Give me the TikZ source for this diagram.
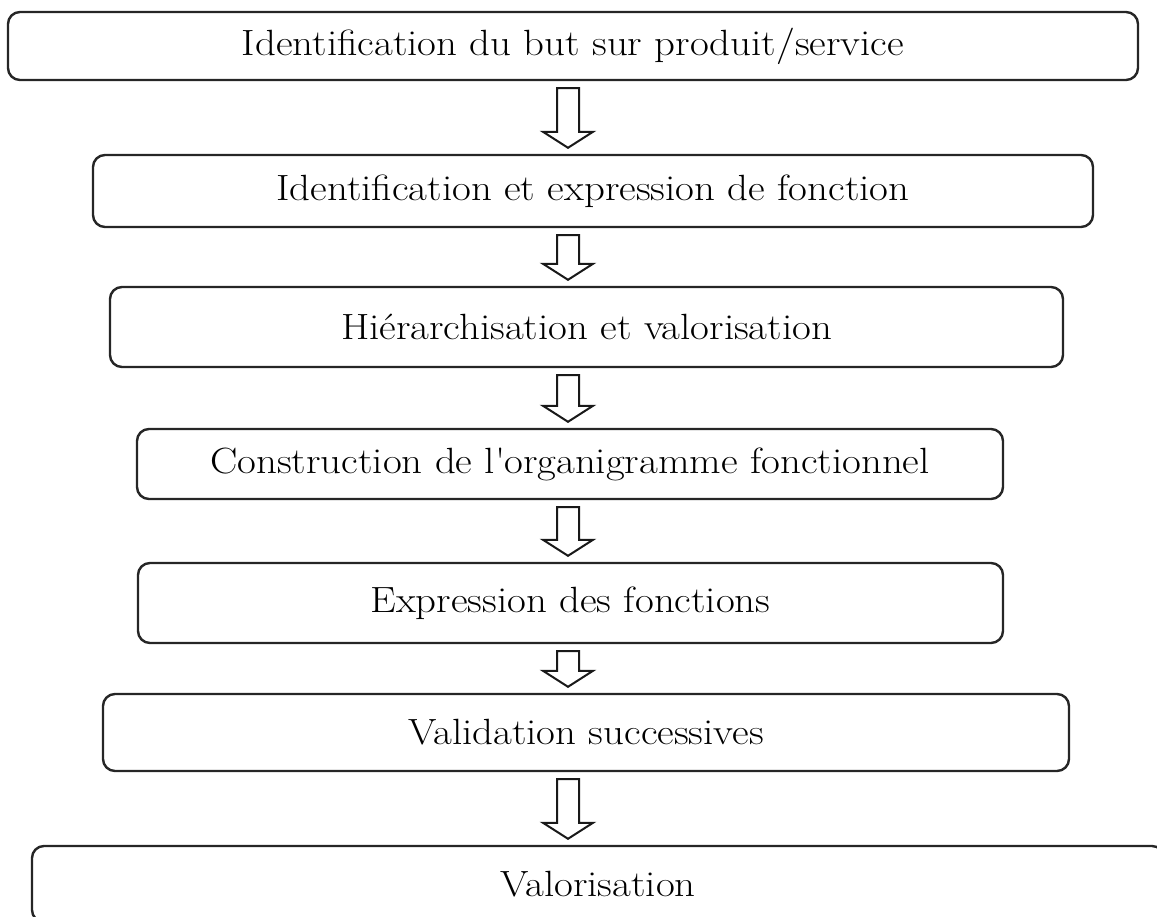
\documentclass[tikz,border=0pt]{standalone}
\usepackage{fontspec}
\setmainfont{Latin Modern Roman}[FakeStretch=1.12]
\usetikzlibrary{calc}
\begin{document}
\begin{tikzpicture}[x=1pt,y=-1pt,
  stage/.style={draw=black!85, line width=2.4pt, rounded corners=12pt,
    inner sep=0pt, font=\fontsize{36.5}{42}\selectfont},
  hollow/.style={draw=black!90, line width=2pt, fill=white, line join=miter}]
\useasboundingbox (0,0) rectangle (1157,917);

% process stages, top to bottom
\node[stage, minimum width=1130pt, minimum height=68pt] (s1) at (573,46)
  {Identification du but sur produit/service};
\node[stage, minimum width=1000pt, minimum height=72pt] (s2) at (593,191)
  {Identification et expression de fonction};
\node[stage, minimum width=953pt, minimum height=80pt] (s3) at (586.5,327)
  {Hiérarchisation et valorisation};
\node[stage, minimum width=866pt, minimum height=70pt] (s4) at (570,464)
  {Construction de l\textquotesingle organigramme fonctionnel};
\node[stage, minimum width=865pt, minimum height=80pt] (s5) at (570.5,603)
  {Expression des fonctions};
\node[stage, minimum width=966pt, minimum height=77pt] (s6) at (586,732.5)
  {Validation successives};
\node[stage, minimum width=1132pt, minimum height=76pt] (s7) at (598,884)
  {Valorisation};

% vertical axis shared by the block arrows
\coordinate (axis) at (568,0);

% hollow block arrow from the bottom of #1 to the top of #2
\newcommand\blockarrow[2]{%
  \path (#1.south -| axis) coordinate (tail) (#2.north -| axis) coordinate (tip);
  \draw[hollow]
    ($(tail)+(-11,7)$) -- ($(tip)+(-11,-22)$) -- ($(tip)+(-25,-22)$)
    -- ($(tip)+(0,-6)$) -- ($(tip)+(25,-22)$) -- ($(tip)+(11,-22)$)
    -- ($(tail)+(11,7)$) -- cycle;}

\blockarrow{s1}{s2}
\blockarrow{s2}{s3}
\blockarrow{s3}{s4}
\blockarrow{s4}{s5}
\blockarrow{s5}{s6}
\blockarrow{s6}{s7}
\end{tikzpicture}
\end{document}
